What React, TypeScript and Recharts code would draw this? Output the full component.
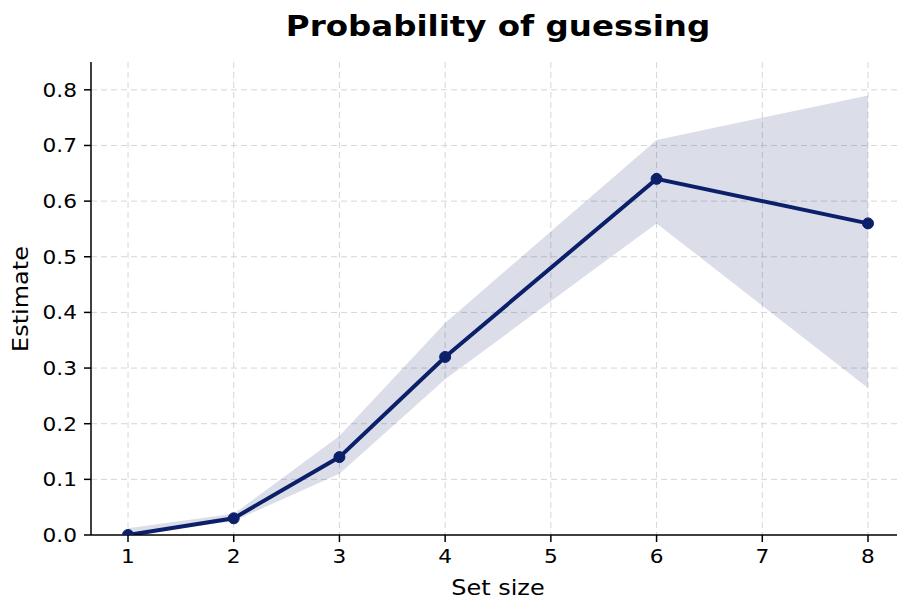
import React from 'react';
import { ComposedChart, Area, Line, XAxis, YAxis, CartesianGrid } from 'recharts';

const setSizes = [1, 2, 3, 4, 6, 8];
const estimates = [0.0, 0.03, 0.14, 0.32, 0.64, 0.56];
const lowerBound = [0.0, 0.025, 0.11, 0.28, 0.56, 0.264];
const upperBound = [0.012, 0.038, 0.178, 0.381, 0.71, 0.79];
const xTicks = [1, 2, 3, 4, 5, 6, 7, 8];
const yTicks = [0, 0.1, 0.2, 0.3, 0.4, 0.5, 0.6, 0.7, 0.8];

const NAVY = '#0c1f6a';
const FONT = 'DejaVu Sans, sans-serif';
// the reference text is a little wider than DejaVu at the same height
const TICK_STRETCH = 1.14;
const LABEL_STRETCH = 1.14;
const TITLE_STRETCH = 1.16;

const data = setSizes.map((x, i) => ({
  x,
  y: estimates[i],
  band: [lowerBound[i], upperBound[i]],
}));

const XTick = (props: any) => {
  const { x, y, payload } = props;
  return (
    <text transform={`translate(${x},${y}) scale(${TICK_STRETCH},1)`} dy={19} textAnchor="middle" fontSize={19} fontFamily={FONT} fill="#000">
      {payload.value}
    </text>
  );
};

const YTick = (props: any) => {
  const { x, y, payload } = props;
  return (
    <text transform={`translate(${x},${y}) scale(${TICK_STRETCH},1)`} dy={7} textAnchor="end" fontSize={19} fontFamily={FONT} fill="#000">
      {Number(payload.value).toFixed(1)}
    </text>
  );
};

const App: React.FC = () => {
  return (
    <div style={{ position: 'absolute', left: 0, top: 0, width: 897, height: 600, overflow: 'hidden', background: '#fff', fontFamily: FONT }}>
      <div style={{ position: 'absolute', left: 91, width: 814, top: 10, textAlign: 'center', fontSize: 28, fontWeight: 'bold', color: '#000', transform: `scaleX(${TITLE_STRETCH})` }}>
        Probability of guessing
      </div>
      <div style={{ position: 'absolute', left: 91, width: 814, top: 576, textAlign: 'center', fontSize: 21, color: '#000', transform: `scaleX(${LABEL_STRETCH})` }}>
        Set size
      </div>
      <div style={{ position: 'absolute', left: 21, top: 299, width: 0, height: 0 }}>
        <div style={{ position: 'absolute', left: -100, width: 200, top: -12, textAlign: 'center', fontSize: 21, lineHeight: '24px', color: '#000', transform: `rotate(-90deg) scaleX(${LABEL_STRETCH})` }}>
          Estimate
        </div>
      </div>
      <ComposedChart width={910} height={600} data={data} margin={{ top: 62, right: 5, bottom: 35, left: 31 }}>
        <CartesianGrid strokeDasharray="6 4" stroke="#d6d6d6" strokeWidth={1} horizontalValues={yTicks.slice(1)} verticalValues={xTicks} />
        <XAxis
          dataKey="x"
          type="number"
          domain={[0.65, 8.35]}
          ticks={xTicks}
          allowDataOverflow
          height={30}
          tick={<XTick />}
          tickSize={7}
          tickMargin={2}
          tickLine={{ stroke: '#000', strokeWidth: 1.5 }}
          axisLine={{ stroke: '#000', strokeWidth: 1.5 }}
        />
        <YAxis
          type="number"
          domain={[0, 0.85]}
          ticks={yTicks}
          allowDataOverflow
          width={60}
          tick={<YTick />}
          tickSize={7}
          tickMargin={7}
          tickLine={{ stroke: '#000', strokeWidth: 1.5 }}
          axisLine={{ stroke: '#000', strokeWidth: 1.5 }}
        />
        <Area
          dataKey="band"
          type="linear"
          stroke="none"
          fill={NAVY}
          fillOpacity={0.15}
          isAnimationActive={false}
          activeDot={false}
        />
        <Line
          dataKey="y"
          type="linear"
          stroke={NAVY}
          strokeWidth={4}
          dot={{ r: 5.5, fill: NAVY, stroke: NAVY, strokeWidth: 1 }}
          activeDot={false}
          isAnimationActive={false}
        />
      </ComposedChart>
    </div>
  );
};

export default App;
